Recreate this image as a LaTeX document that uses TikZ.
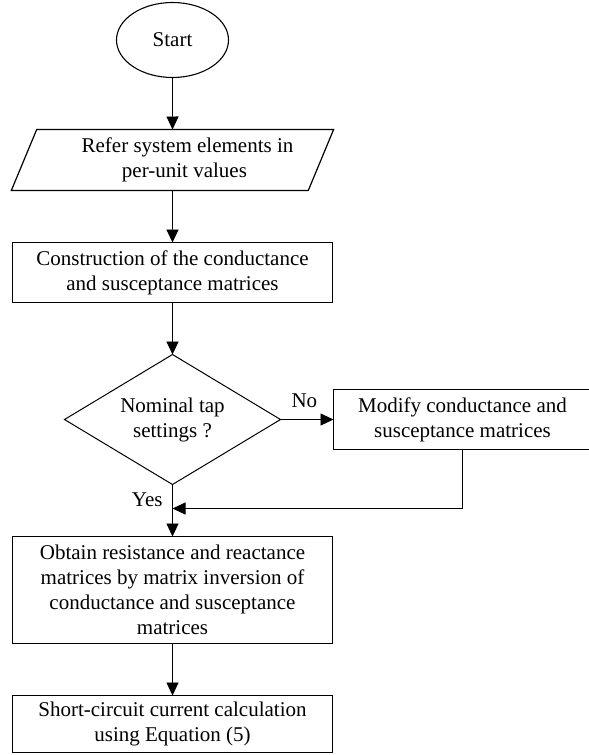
\documentclass[tikz,border=0pt]{standalone}
\usepackage{fontspec}
\setmainfont{Liberation Serif}
\usetikzlibrary{positioning,shapes.geometric,arrows.meta}

\begin{document}
\begin{tikzpicture}[
		every node/.style = {
			align=center,
			font=\fontsize{21}{25}\selectfont,
			outer sep=0pt, inner sep=0pt,
			node distance=52pt
		},
		terminal/.style = {draw, ellipse, line width=1.1pt,
			minimum width=112pt, minimum height=75pt},
		io/.style = {draw, trapezium, trapezium stretches=true,
			trapezium left angle=63, trapezium right angle=117,
			line width=1.2pt, minimum width=323pt, minimum height=61pt},
		process/.style = {draw, rectangle, line width=1.6pt,
			minimum width=320pt, minimum height=60pt},
		decision/.style = {draw, diamond, aspect=1.66, line width=1pt,
			minimum width=216pt, minimum height=130pt},
		flow/.style = {-{Triangle[length=13pt,width=12pt]}, line width=0.9pt}
		]
		\useasboundingbox (-172.5pt,40pt) rectangle (416.5pt,-715pt);
		\node[terminal] (start) {Start};
		\node[io, below=of start] (refer) {\hspace*{30pt}Refer system elements in\\\hspace*{24pt}per-unit values};
		\node[process, below=of refer] (build) {Construction of the conductance\\and susceptance matrices};
		\node[decision, below=of build] (nominal) {Nominal tap\\settings ?};
		\node[process, right=53pt of nominal, minimum width=258pt] (modify) {Modify conductance and\\susceptance matrices};
		\node[process, below=of nominal, minimum height=107pt] (obtain) {Obtain resistance and reactance\\matrices by matrix inversion of\\conductance and susceptance\\matrices};
		\node[process, below=of obtain, minimum height=57pt] (calc) {Short-circuit current calculation\\using Equation (5)};
		\coordinate[below=24pt of nominal.south] (merge);
		\draw[flow] (start) -- (refer);
		\draw[flow] (refer) -- (build);
		\draw[flow] (build) -- (nominal);
		\draw[flow] (nominal) -- node[above=12pt, pos=0.45] {No} (modify);
		\draw[flow] (nominal) -- node[left=10pt, pos=0.3] {Yes} (obtain);
		\draw[flow] (modify.south) |- (merge);
		\draw[flow] (obtain) -- (calc);
	\end{tikzpicture}
\end{document}
